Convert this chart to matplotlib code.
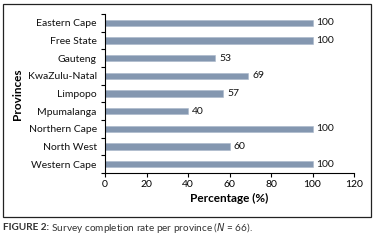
""" Survey completion rate per province, horizontal bar chart. """

import matplotlib
matplotlib.use("Agg")
import matplotlib.pyplot as plt
from matplotlib.patches import Rectangle

provinces = ["Eastern Cape", "Free State", "Gauteng", "KwaZulu-Natal", "Limpopo",
             "Mpumalanga", "Northern Cape", "North West", "Western Cape"]
completion = [100, 100, 53, 69, 57, 40, 100, 60, 100]
x_ticks = [0, 20, 40, 60, 80, 100, 120]

bar_colour = "#8497B0"
plt.rcParams["font.family"] = ["Lato", "DejaVu Sans"]

fig = plt.figure(figsize=(3.82, 2.42), dpi=100)
ax = fig.add_axes([105 / 382, 1 - 173 / 242, 249 / 382, 159 / 242])

# Bars with value labels
positions = list(range(len(provinces)))
ax.barh(positions, completion, height=0.37, color=bar_colour, edgecolor="#A9B7C9", linewidth=0.4)
for pos, val in zip(positions, completion):
    ax.text(val + 2, pos, str(val), va="center", ha="left", fontsize=7.5, color="#111111")

# Axis formatting
ax.set_ylim(len(provinces) - 0.5, -0.5)
ax.set_xlim(0, 120)
ax.set_xticks(x_ticks)
ax.set_yticks(positions)
ax.set_yticklabels(provinces, color="#111111")
ax.set_yticks([p - 0.5 for p in positions] + [len(provinces) - 0.5], minor=True)
ax.tick_params(axis="y", which="major", length=0, pad=6, labelsize=7.5)
ax.tick_params(axis="y", which="minor", length=3, width=0.8, direction="out")
ax.tick_params(axis="x", length=3, width=0.8, direction="out", labelsize=7.5, pad=2)
for side in ["top", "right"]:
    ax.spines[side].set_visible(False)
for side in ["left", "bottom"]:
    ax.spines[side].set_linewidth(0.8)

ax.set_xlabel("Percentage (%)", fontsize=8.5, fontweight="bold", labelpad=3)
fig.text(17 / 382, 1 - 94 / 242, "Provinces", rotation=90, fontsize=8.5, fontweight="bold",
         ha="center", va="center")

# Frame around chart and caption
fig.patches.append(Rectangle((3 / 382, 1 - 217 / 242), 368 / 382, 213 / 242,
                             transform=fig.transFigure, fill=False, edgecolor="#222222", linewidth=0.9))
head = fig.text(3 / 382, 1 - 228 / 242, "FIGURE 2:", fontsize=7.2, fontweight="bold",
                va="center", color="#333333")
ax.annotate(" Survey completion rate per province ($N$ = 66).", xy=(1, 0.5), xycoords=head,
            va="center", ha="left", fontsize=7.2, color="#333333", annotation_clip=False)

fig.savefig("out.png", dpi=100)
